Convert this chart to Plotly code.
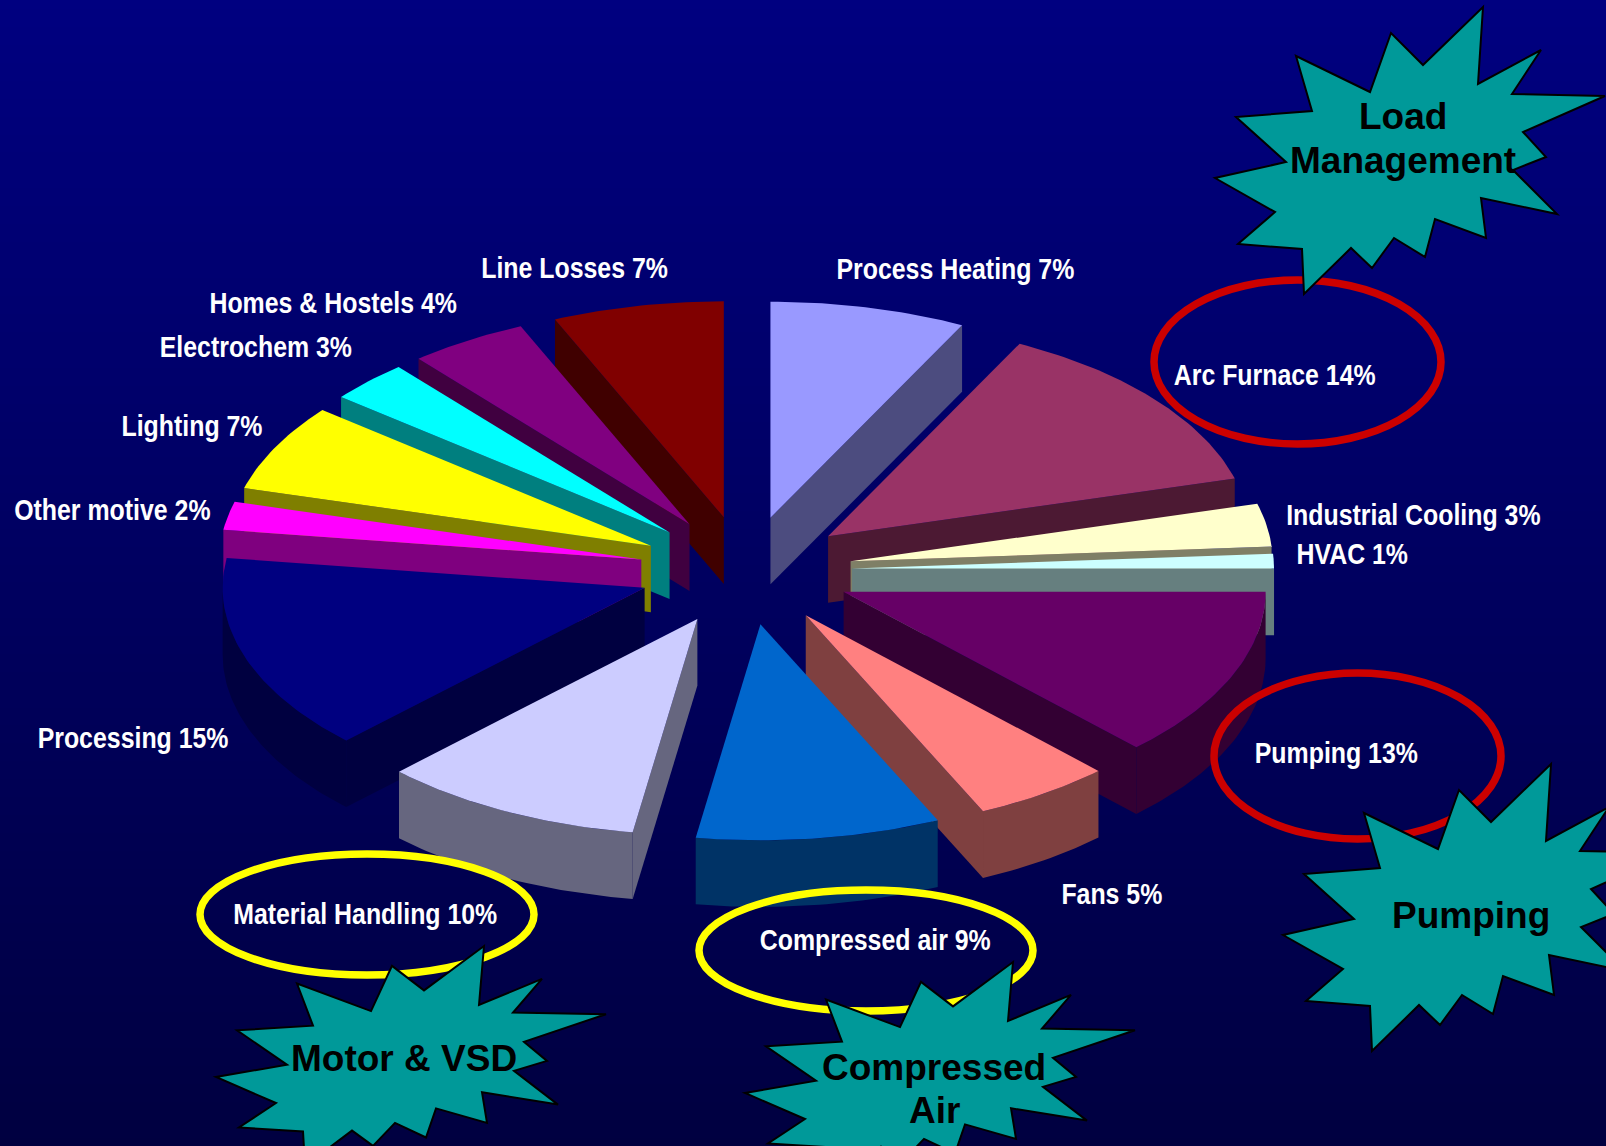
import math
import numpy as np
import plotly.graph_objects as go

# ---- data ----
categories = ["Process Heating", "Arc Furnace", "Industrial Cooling", "HVAC", "Pumping", "Fans",
              "Compressed air", "Material Handling", "Processing", "Other motive", "Lighting",
              "Electrochem", "Homes & Hostels", "Line Losses"]
# the numbers printed in the labels
labelled_percent = [7, 14, 3, 1, 13, 5, 9, 10, 15, 2, 7, 3, 4, 7]
# the shares as actually drawn (measured from the slice edges in the picture)
drawn_share = [7.5, 13.2, 3.2, 1.1, 12.8, 5.3, 9.35, 10.05, 14.7, 2.1, 6.5, 3.1, 4.55, 6.55]
slice_colors = ["#9999FF", "#993366", "#FFFFCC", "#CCFFFF", "#660066", "#FF8080", "#0066CC",
                "#CCCCFF", "#000080", "#FF00FF", "#FFFF00", "#00FFFF", "#800080", "#800000"]
label_x = [955, 1274, 1413, 1352, 1336, 1112, 875, 365, 133, 112, 192, 256, 333, 574]
label_y = [268, 374, 514, 553, 752, 893, 939, 913, 737, 509, 425, 346, 302, 267]

star_x = [1483, 1478, 1541, 1512, 1605, 1523, 1546, 1513, 1557, 1481, 1486, 1435, 1425, 1394,
          1372, 1351, 1304, 1302, 1238, 1275, 1215, 1286, 1236, 1312, 1296, 1370, 1391, 1423]
star_y = [7, 84, 50, 94, 96, 132, 157, 170, 214, 198, 238, 219, 257, 238,
          268, 248, 294, 249, 244, 212, 178, 162, 117, 111, 56, 92, 33, 65]
stars = [
    (["Load", "Management"], 0, 0, 1.0, [1403, 1403], [116, 160]),
    (["Pumping"], 68, 757, 1.0, [1471], [915]),
    (["Motor & VSD"], -999, 939, 0.766, [404], [1058]),
    (["Compressed", "Air"], -470, 955, 0.766, [934, 934], [1067, 1110]),
]
ellipses = [
    (1154, 280, 1441, 444, "#CC0000"),
    (1214, 673, 1501, 839, "#CC0000"),
    (200, 854, 534, 975, "#FFFF00"),
    (699, 890, 1033, 1011, "#FFFF00"),
]

W, H = 1606, 1146
CX, CY = 745.6, 570.5
RX, RY = 422.0, 216.0
EX, EY = 106.5, 54.3
DEPTH = 66.6


def darken(c):
    return "#%02X%02X%02X" % tuple(int(c[i:i + 2], 16) // 2 for i in (1, 3, 5))


def poly(xs, ys, color):
    return go.Scatter(x=list(xs), y=list(ys), mode="lines", fill="toself", fillcolor=color,
                      line=dict(width=0, color=color), hoverinfo="skip", showlegend=False)


fig = go.Figure()

# gradient backdrop
ys = np.linspace(0, H, 116)
fig.add_trace(go.Heatmap(x=[0, W], y=ys, z=[[v, v] for v in ys], zmin=0, zmax=H,
                         colorscale=[[0, "#000080"], [1, "#000040"]], showscale=False,
                         hoverinfo="skip", zsmooth="best"))

# slices, computed from the shares
total = sum(drawn_share)
edges = np.cumsum([0] + drawn_share) / total * 2 * math.pi
items = []
for i, col in enumerate(slice_colors):
    t1, t2 = edges[i], edges[i + 1]
    mid = (t1 + t2) / 2
    ax = CX + EX * math.sin(mid)
    ay = CY - EY * math.cos(mid)
    items.append((math.cos(mid), i, t1, t2, ax, ay, col))

for _, i, t1, t2, ax, ay, col in sorted(items, key=lambda r: -r[0]):
    dark = darken(col)
    n = max(4, int((t2 - t1) * 60))
    ts = np.linspace(t1, t2, n)
    ox = ax + RX * np.sin(ts)
    oy = ay - RY * np.cos(ts)
    if t2 < math.pi:
        ex, ey = ox[-1], oy[-1]
        fig.add_trace(poly([ax, ex, ex, ax, ax], [ay, ey, ey + DEPTH, ay + DEPTH, ay], dark))
    if t1 > math.pi:
        ex, ey = ox[0], oy[0]
        fig.add_trace(poly([ax, ex, ex, ax, ax], [ay, ey, ey + DEPTH, ay + DEPTH, ay], dark))
    a, b = max(t1, math.pi / 2), min(t2, 3 * math.pi / 2)
    if b > a:
        tr = np.linspace(a, b, n)
        rx = ax + RX * np.sin(tr)
        ry = ay - RY * np.cos(tr)
        fig.add_trace(poly(np.r_[rx, rx[::-1], rx[0]], np.r_[ry, ry[::-1] + DEPTH, ry[0]], dark))
    fig.add_trace(poly(np.r_[ax, ox, ax], np.r_[ay, oy, ay], col))

shapes = []
for x0, y0, x1, y1, col in ellipses:
    shapes.append(dict(type="circle", xref="x", yref="y", x0=x0, y0=y0, x1=x1, y1=y1,
                       line=dict(color=col, width=7.5), fillcolor="rgba(0,0,0,0)", layer="above"))
annotations = []
for lines, dx, dy, sy, tx, ty in stars:
    pts = [(x + dx, (y - star_y[0]) * sy + star_y[0] + dy) for x, y in zip(star_x, star_y)]
    path = "M " + " L ".join(f"{x:.1f},{y:.1f}" for x, y in pts) + " Z"
    shapes.append(dict(type="path", xref="x", yref="y", path=path, fillcolor="#009999",
                       line=dict(color="#000000", width=2), layer="above"))
    for s, x, y in zip(lines, tx, ty):
        annotations.append(dict(x=x, y=y, xref="x", yref="y", text=f"<b>{s}</b>", showarrow=False,
                                font=dict(family="Liberation Sans", size=37, color="#000000")))

for name, v, x, y in zip(categories, labelled_percent, label_x, label_y):
    annotations.append(dict(x=x, y=y, xref="x", yref="y", text=f"<b>{name} {v}%</b>", showarrow=False,
                            font=dict(family="Liberation Sans", size=30, color="#FFFFFF")))

fig.update_layout(width=W, height=H, margin=dict(l=0, r=0, t=0, b=0), autosize=False,
                  paper_bgcolor="#000080", plot_bgcolor="#000080",
                  xaxis=dict(range=[0, W], visible=False, fixedrange=True),
                  yaxis=dict(range=[H, 0], visible=False, fixedrange=True),
                  shapes=shapes, annotations=annotations, showlegend=False)

# the reference's labels are set in a condensed bold face: squeeze the white labels horizontally
squeeze = """
document.body.style.margin='0';document.body.style.overflow='hidden';
function squeezeLabels(){
  document.querySelectorAll('.annotation-text').forEach(function(t){
    if((t.style.fill||'').indexOf('255, 255, 255')<0) return;
    var x=parseFloat(t.getAttribute('x'))||0;
    t.setAttribute('transform','translate('+x+' 0) scale(0.83 1) translate('+(-x)+' 0)');
  });
}
squeezeLabels();setTimeout(squeezeLabels,50);setTimeout(squeezeLabels,300);
"""
fig.write_html("out.html", post_script=squeeze, config={"displayModeBar": False})
